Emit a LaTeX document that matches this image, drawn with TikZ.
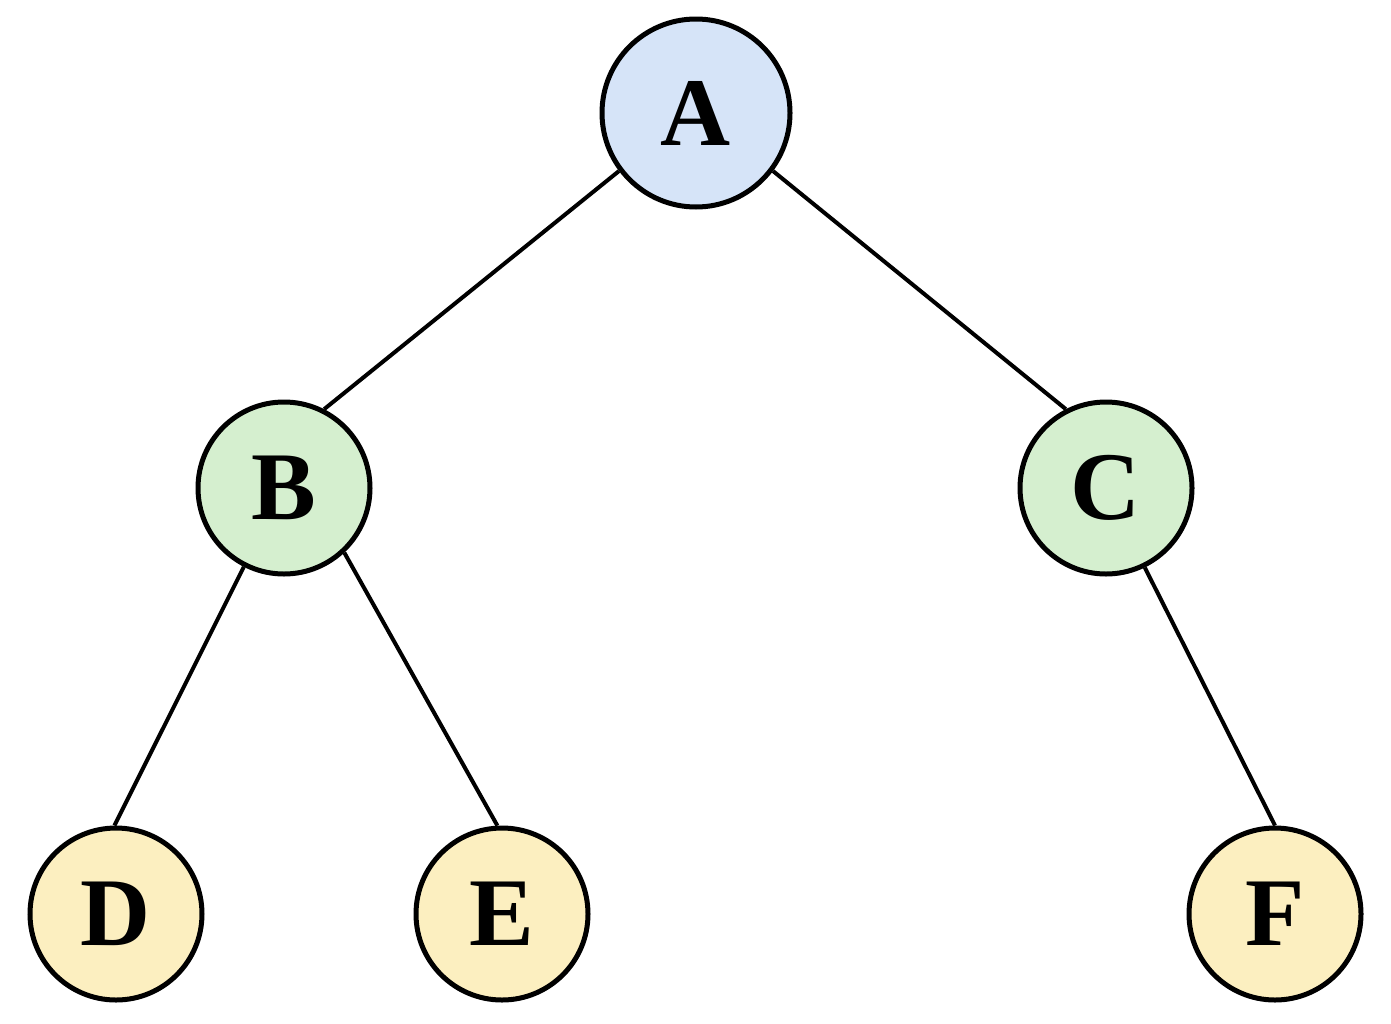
\documentclass[tikz,border=0pt]{standalone}
\usepackage{fontspec}
\setmainfont{Liberation Serif}
\definecolor{nodeblue}{HTML}{D6E4F8}
\definecolor{nodegreen}{HTML}{D5EFCF}
\definecolor{nodeyellow}{HTML}{FCEFC0}
\tikzset{
  treenode/.style={circle, draw=black, line width=5pt, inner sep=0pt,
    font=\fontsize{97}{97}\selectfont\bfseries},
  bignode/.style={treenode, minimum size=188pt},
  smallnode/.style={treenode, minimum size=172pt},
  edge/.style={draw=black, line width=4pt}
}
\begin{document}
\begin{tikzpicture}[x=1pt,y=-1pt]
\useasboundingbox (0,0) rectangle (1391,1023);
\node[bignode, fill=nodeblue] (A) at (696,113) {A};
\node[smallnode, fill=nodegreen] (B) at (284,488) {B};
\node[smallnode, fill=nodegreen] (C) at (1106,488) {C};
\node[smallnode, fill=nodeyellow] (D) at (116,914) {D};
\node[smallnode, fill=nodeyellow] (E) at (502,914) {E};
\node[smallnode, fill=nodeyellow] (F) at (1275,914) {F};
\draw[edge] (A.217) -- (B.63);
\draw[edge] (A.-37) -- (C.117);
\draw[edge] (B.243) -- (D.91);
\draw[edge] (B.313) -- (E.93);
\draw[edge] (C.296) -- (F.90);
\end{tikzpicture}
\end{document}
